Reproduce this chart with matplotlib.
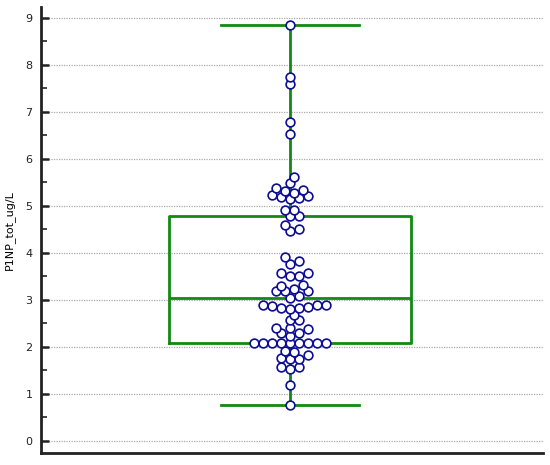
import numpy as np
import matplotlib
matplotlib.use("Agg")
import matplotlib.pyplot as plt

# values (ug/L)
values = [8.85, 7.75, 7.6, 6.79, 6.53,
          5.62, 5.48, 5.38, 5.34, 5.31, 5.27, 5.23, 5.20, 5.18, 5.16, 5.15,
          4.91, 4.91, 4.79, 4.79, 4.6, 4.5, 4.47,
          3.9, 3.83, 3.77, 3.58, 3.58, 3.5, 3.5, 3.32, 3.30, 3.23,
          3.18, 3.18, 3.18, 3.09, 3.04,
          2.88, 2.88, 2.88, 2.86, 2.84, 2.82, 2.82, 2.8,
          2.68, 2.57, 2.57, 2.40, 2.40, 2.38, 2.29, 2.29, 2.24,
          2.09, 2.09, 2.09, 2.09, 2.09, 2.09, 2.09, 2.09, 2.09,
          1.90, 1.88, 1.83, 1.76, 1.74, 1.74, 1.58, 1.58, 1.52,
          1.18, 0.77]

# box statistics as drawn
box_q1 = 2.08
box_med = 3.04
box_q3 = 4.79
whisk_lo = 0.77
whisk_hi = 8.85

ylabel = "P1NP_tot_ug/L"
yticks = list(range(0, 10))

GREEN = "#118a11"
NAVY = "#0c0c96"

fig = plt.figure(figsize=(5.5, 4.65), dpi=100)
ax = fig.add_axes([41/550, 12/465, 502/550, 446/465])
ax.set_xlim(0, 1)
ax.set_ylim(-0.26, 9.23)

xc = 0.496
stats = [dict(med=box_med, q1=box_q1, q3=box_q3, whislo=whisk_lo,
              whishi=whisk_hi, fliers=[])]
ax.bxp(stats, positions=[xc], widths=0.482, capwidths=0.273,
       showfliers=False, manage_ticks=False,
       boxprops=dict(color=GREEN, lw=2),
       medianprops=dict(color=GREEN, lw=2),
       whiskerprops=dict(color=GREEN, lw=2),
       capprops=dict(color=GREEN, lw=2), zorder=2)

# swarm layout in pixel space, offsets on a half-diameter grid,
# points may overlap a little like in the original
fig.canvas.draw()
ys = np.sort(np.array(values))
trans = ax.transData
pix = trans.transform(np.column_stack([np.full(len(ys), xc), ys]))
step = 4.5
dmin = 6.8
placed = []
xs_pix = []
for (px, py) in pix:
    best = px
    for k in range(0, 60):
        n = (k + 1) // 2
        off = n * step * (1 if k % 2 else -1)
        cx = px + off
        if all((cx - qx) ** 2 + (py - qy) ** 2 >= dmin * dmin for qx, qy in placed):
            best = cx
            break
    placed.append((best, py))
    xs_pix.append(best)
xs = trans.inverted().transform(np.column_stack([xs_pix, pix[:, 1]]))[:, 0]

ax.plot(xs, ys, 'o', ms=6.3, mfc='white', mec=NAVY, mew=1.2, zorder=3,
        clip_on=False)

ax.set_yticks(yticks)
ax.set_yticks(np.arange(0.5, 9, 1.0), minor=True)
ax.set_xticks([])
ax.yaxis.grid(True, which='major', color='#aaaaaa', ls=(0, (1, 1)), lw=0.9)
ax.set_axisbelow(True)
ax.tick_params(axis='y', which='major', direction='in', length=6, width=1.8,
               labelsize=8, pad=6, colors='#222222')
ax.tick_params(axis='y', which='minor', direction='in', length=4, width=1.2,
               colors='#222222')
for s in ['top', 'right']:
    ax.spines[s].set_visible(False)
for s in ['left', 'bottom']:
    ax.spines[s].set_linewidth(2)
    ax.spines[s].set_color('#222222')
ax.set_ylabel(ylabel, fontsize=8, labelpad=8)

fig.savefig("out.png", dpi=100)
